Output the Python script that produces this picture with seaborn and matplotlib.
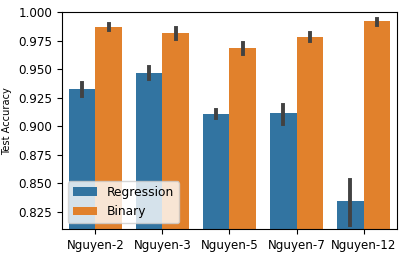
import pandas as pd
import matplotlib
matplotlib.use('Agg')
import matplotlib.pyplot as plt
import seaborn as sns

# benchmarks and methods
benchmarks = ['Nguyen-2', 'Nguyen-3', 'Nguyen-5', 'Nguyen-7', 'Nguyen-12']
methods = ['Regression', 'Binary']

# mean accuracy and error bar ends
reg_mean = [0.9326, 0.9466, 0.9108, 0.9116, 0.8346]
reg_lo = [0.9265, 0.9410, 0.9076, 0.9023, 0.8140]
reg_hi = [0.9380, 0.9520, 0.9143, 0.9186, 0.8530]

bin_mean = [0.9869, 0.9816, 0.9685, 0.9781, 0.9921]
bin_lo = [0.9845, 0.9764, 0.9635, 0.9746, 0.9886]
bin_hi = [0.9895, 0.9860, 0.9729, 0.9816, 0.9939]

# long table: lo / mean / hi per group -> median = mean, 100% interval = lo..hi
rows = []
for m, (mean, lo, hi) in zip(methods, [(reg_mean, reg_lo, reg_hi),
                                       (bin_mean, bin_lo, bin_hi)]):
    for i, b in enumerate(benchmarks):
        for v in (lo[i], mean[i], hi[i]):
            rows.append({'benchmark': b, 'method': m, 'acc': v})
df = pd.DataFrame(rows)

fig = plt.figure(figsize=(4.04, 2.56), dpi=100)
ax = fig.add_axes([0.153, 0.105, 0.83, 0.848])
sns.barplot(data=df, x='benchmark', y='acc', hue='method', order=benchmarks,
            hue_order=methods, estimator='median', errorbar=('pi', 100),
            err_kws={'linewidth': 2.8}, ax=ax)
ax.set_ylim(0.81, 1.0)
ax.set_xlabel('')
ax.set_ylabel('Test Accuracy', fontsize=7.1)
ax.tick_params(axis='both', labelsize=8.6)
ax.legend(loc='lower left', fontsize=8.8)
fig.savefig('out.png', dpi=100)
